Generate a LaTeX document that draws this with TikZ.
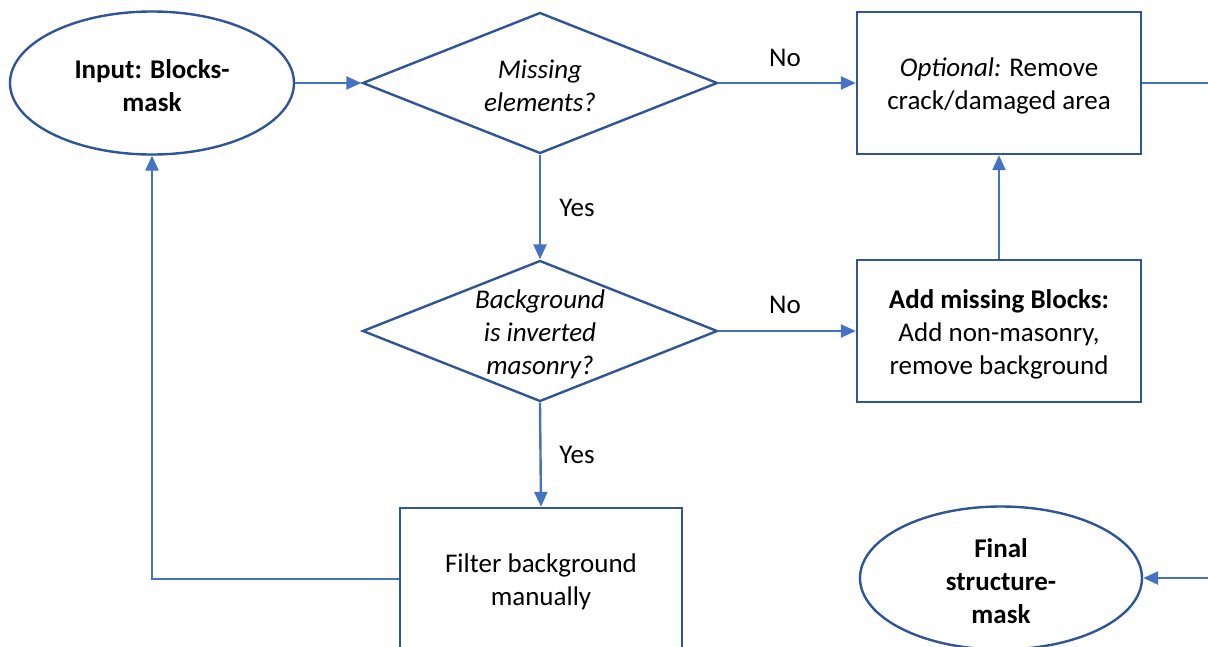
\documentclass[tikz,border=0pt]{standalone}
\usepackage{fontspec}
\setmainfont{Carlito}
\usetikzlibrary{shapes.geometric,arrows.meta}
\definecolor{edgeblue}{HTML}{2F5597}
\definecolor{linkblue}{HTML}{4472C4}
\begin{document}
\begin{tikzpicture}[x=1pt,y=-1pt,
  every node/.style={font=\fontsize{27}{33}\selectfont, align=center},
  body/.style={font=\fontsize{27}{33}\selectfont, align=center, yshift=-3pt},
  bodybf/.style={body, font=\fontsize{27}{33}\selectfont\bfseries},
  qtext/.style={body, font=\fontsize{27}{33}\selectfont\itshape},
  termbox/.style={ellipse, draw=edgeblue, line width=2.4pt, minimum width=284pt, minimum height=143pt, inner sep=0pt},
  procbox/.style={rectangle, draw=edgeblue, line width=2.4pt, minimum width=284pt, minimum height=142pt, inner sep=0pt},
  decision/.style={diamond, draw=edgeblue, line width=2.4pt, minimum width=355pt, minimum height=141pt, inner sep=0pt},
  link/.style={draw=linkblue, line width=2.4pt, -{Triangle[length=15pt,width=13pt]}},
  plainlink/.style={draw=linkblue, line width=2.4pt},
  tag/.style={font=\fontsize{27}{33}\selectfont}
]
\useasboundingbox (0,0) rectangle (1208,646);
\clip (0,0) rectangle (1208,646);

% nodes: shapes, with their text set as centred labels
\node[termbox, label={[bodybf]center:{Input: Blocks-\\mask}}] (in) at (152,83) {};
\node[decision, label={[qtext]center:{Missing\\elements?}}] (d1) at (540,83) {};
\node[procbox, label={[body]center:{\textit{Optional:} Remove\\crack/damaged area}}] (opt) at (999,83) {};
\node[decision, label={[qtext]center:{Background\\is inverted\\masonry?}}] (d2) at (540,331) {};
\node[procbox, label={[body]center:{\textbf{Add missing Blocks:}\\Add non-masonry,\\remove background}}] (add) at (999,331) {};
\node[procbox, minimum width=282pt, label={[body]center:{Filter background\\manually}}] (filt) at (541,579) {};
\node[termbox, minimum width=282pt, label={[bodybf]center:{Final\\structure-\\mask}}] (fin) at (1001,578) {};

\coordinate (outA) at (1208,83);
\coordinate (inB) at (1208,578);

% connectors
\draw[link] (in.east) -- (d1.west);
\draw[link] (d1.east) -- (opt.west);
\draw[plainlink] (opt.east) -- (outA);
\draw[link] (d1.south) -- (d2.north);
\draw[link] (d2.east) -- (add.west);
\draw[link] (add.north) -- (opt.south);
\draw[link] (d2.south) -- (filt.north);
\draw[link] (filt.west) -| (in.south);
\draw[link] (inB) -- (fin.east);

% branch labels
\node[tag] (no1) at (785,58) {No};
\node[tag] (yes1) at (577,208) {Yes};
\node[tag] (no2) at (785,305) {No};
\node[tag] (yes2) at (577,455) {Yes};
\end{tikzpicture}
\end{document}
